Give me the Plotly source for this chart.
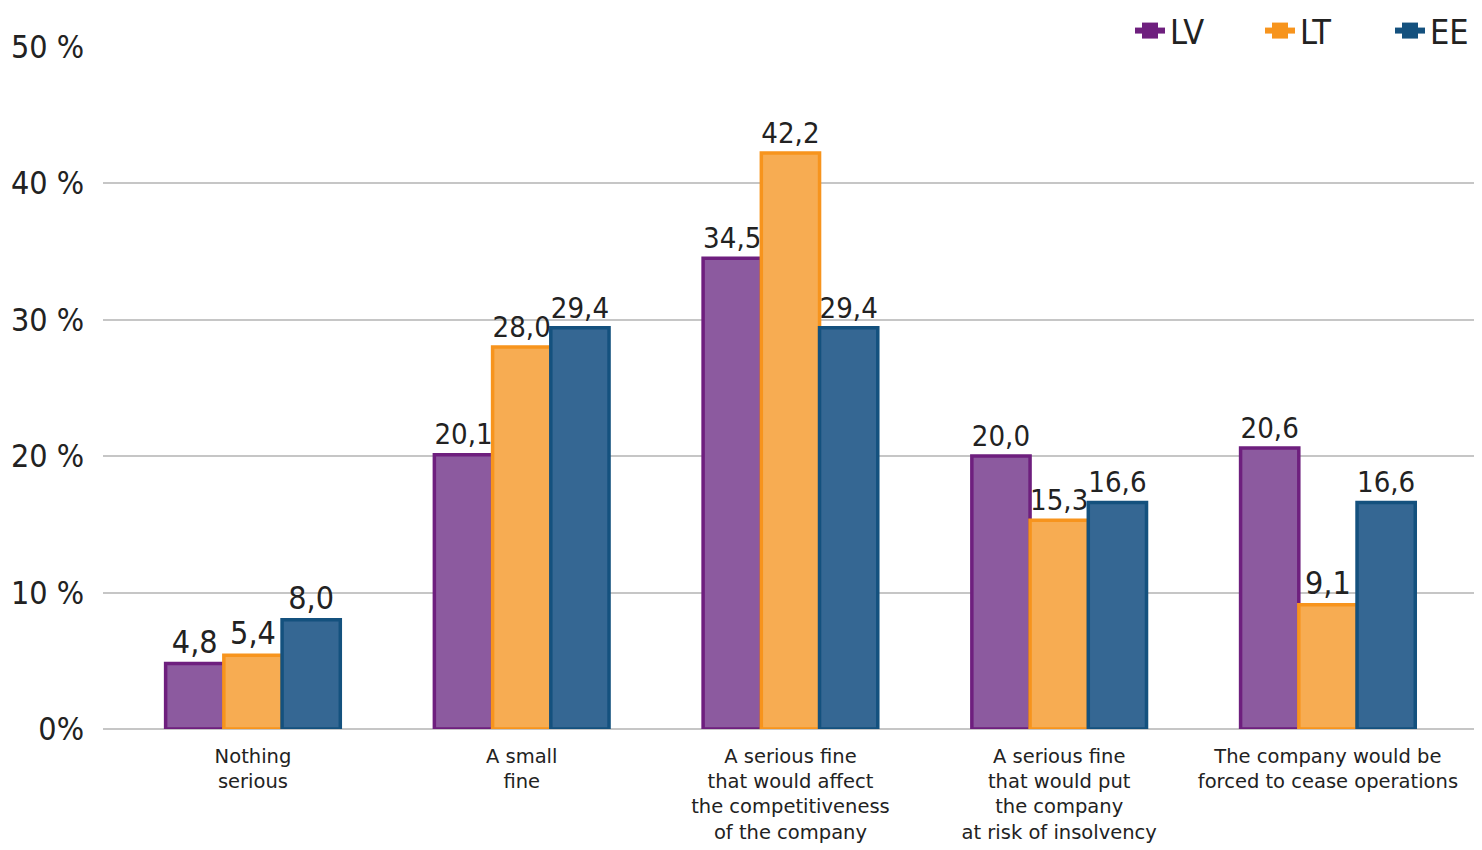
import plotly.graph_objects as go

categories = [
    "Nothing<br>serious",
    "A small<br>fine",
    "A serious fine<br>that would affect<br>the competitiveness<br>of the company",
    "A serious fine<br>that would put<br>the company<br>at risk of insolvency",
    "The company would be<br>forced to cease operations",
]
series_names = ["LV", "LT", "EE"]
lv_values = [4.8, 20.1, 34.5, 20.0, 20.6]
lt_values = [5.4, 28.0, 42.2, 15.3, 9.1]
ee_values = [8.0, 29.4, 29.4, 16.6, 16.6]
y_tick_vals = [0, 10, 20, 30, 40, 50]
y_tick_text = ["0%", "10 %", "20 %", "30 %", "40 %", "50 %"]

line_colors = ["#6E1F7E", "#F7941D", "#14517E"]
fill_colors = ["#8C5A9F", "#F7AC52", "#356793"]

FONT = "DejaVu Sans Condensed, DejaVu Sans, sans-serif"
FONT_CAT = "DejaVu Sans, sans-serif"

fig = go.Figure()
x_idx = list(range(len(categories)))
for name, vals, lc, fc in zip(series_names, [lv_values, lt_values, ee_values], line_colors, fill_colors):
    fig.add_trace(go.Bar(
        x=x_idx, y=vals, name=name, showlegend=False,
        marker=dict(color=fc, line=dict(color=lc, width=3.5)),
        text=[f"{v:.1f}".replace(".", ",") for v in vals],
        textposition="outside", cliponaxis=False,
        textfont=dict(family=FONT, size=32, color="#222222"),
    ))
    fig.add_trace(go.Scatter(
        x=[None], y=[None], name=name, mode="lines+markers",
        line=dict(color=lc, width=6),
        marker=dict(symbol="square", size=17, color=lc),
    ))

fig.update_layout(
    width=1474, height=842,
    margin=dict(l=95, r=6, t=38, b=121, autoexpand=False),
    paper_bgcolor="white", plot_bgcolor="white",
    barmode="group", bargap=0.35, bargroupgap=0.0,
    font=dict(family=FONT, color="#222222"),
    legend=dict(orientation="h", x=0.748, xanchor="left", y=1.022, yanchor="middle",
                font=dict(family=FONT, size=34, color="#222222"),
                entrywidth=85, tracegroupgap=0, bgcolor="rgba(0,0,0,0)"),
    xaxis=dict(range=[-0.558, 4.551], tickvals=x_idx, ticktext=categories,
               showgrid=False, zeroline=False, showline=False, ticks="",
               ticklabelstandoff=13,
               tickfont=dict(family=FONT_CAT, size=19.5, color="#222222")),
    yaxis=dict(range=[0, 50.05], tickvals=y_tick_vals, ticktext=y_tick_text,
               showgrid=True, gridcolor="#C6C6C6", gridwidth=2,
               zeroline=True, zerolinecolor="#C6C6C6", zerolinewidth=2,
               showline=False, ticks="", ticklabelstandoff=18,
               tickfont=dict(family=FONT, size=32, color="#222222")),
)

fig.write_html("out.html")
